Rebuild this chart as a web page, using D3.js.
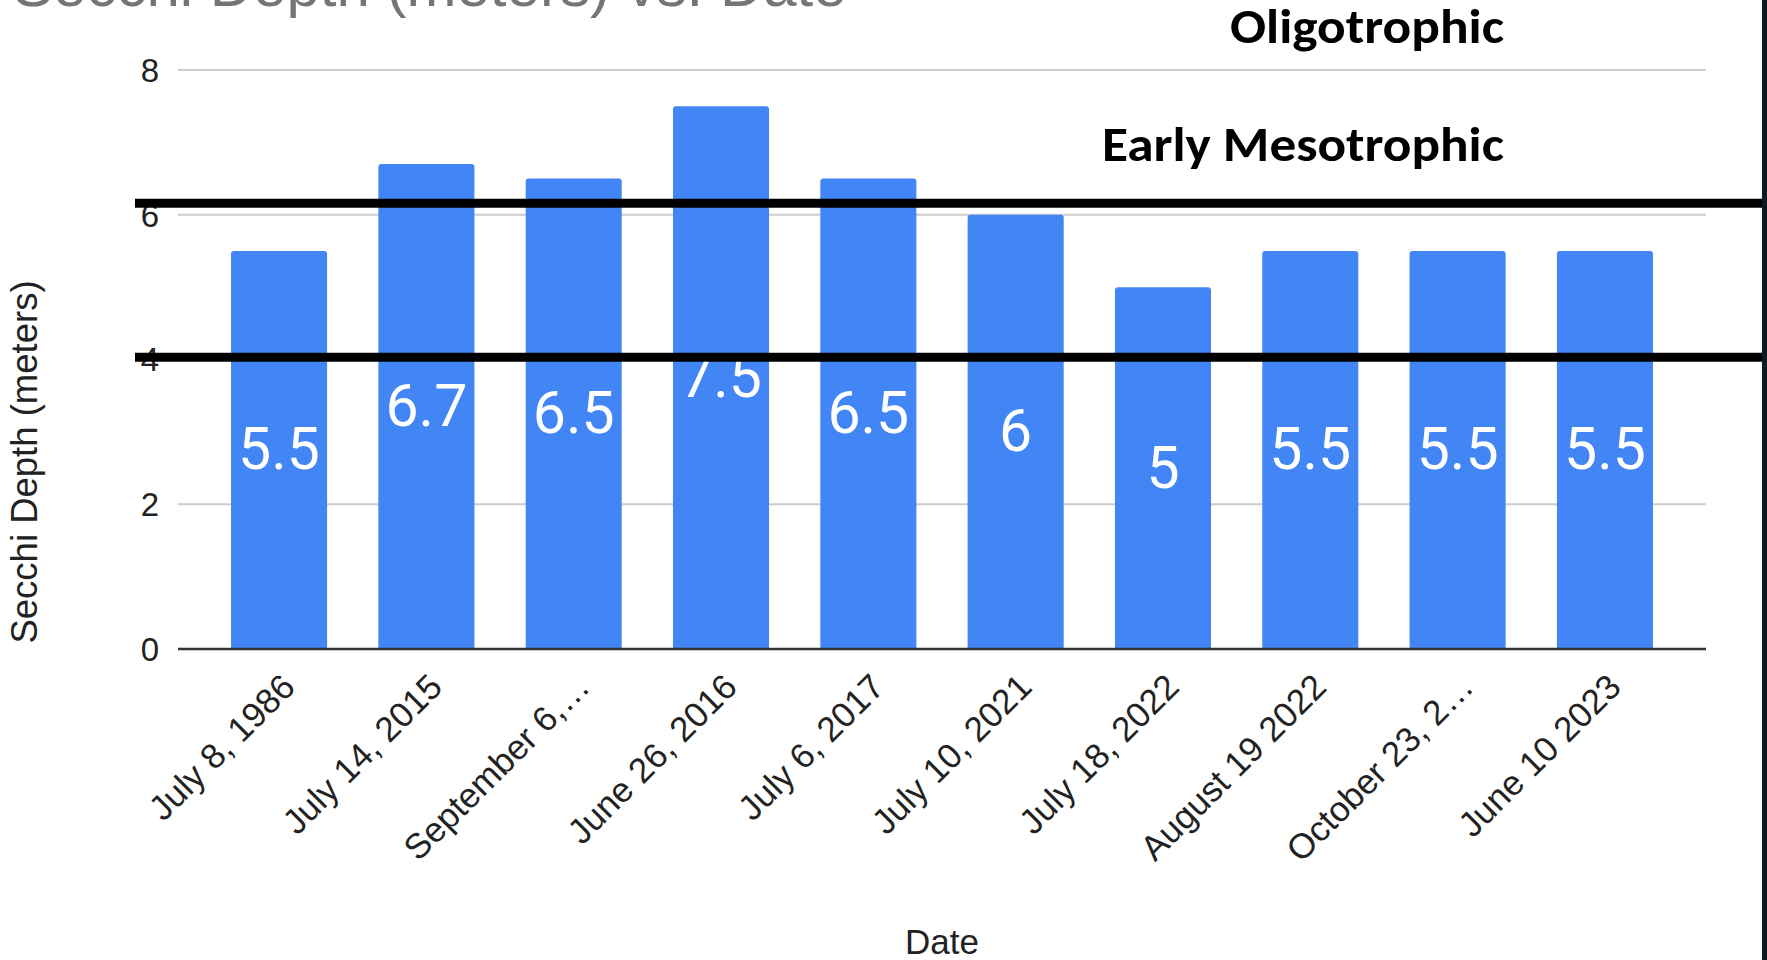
<!DOCTYPE html>
<html>
<head>
<meta charset="utf-8">
<script src="https://cdn.jsdelivr.net/npm/d3@7"></script>
<style>
    body { margin: 0; background: #fff; }
    svg { display: block; }
    .tick-label { font-family: Arial, "Liberation Sans", sans-serif; fill: #222; }
    .zone-label { font-family: Calibri, Carlito, Lato, sans-serif; font-weight: bold; fill: #000; }
</style>
</head>
<body>
<div class="chart"></div>
<script>
(function() {
    'use strict';

    // DATA ****************************************************************************
    var dates = ['July 8, 1986', 'July 14, 2015', 'September 6,\u2026', 'June 26, 2016',
                 'July 6, 2017', 'July 10, 2021', 'July 18, 2022', 'August 19 2022',
                 'October 23, 2\u2026', 'June 10 2023'];
    var depths = [5.5, 6.7, 6.5, 7.5, 6.5, 6, 5, 5.5, 5.5, 5.5];
    var yTicks = [0, 2, 4, 6, 8];
    // trophic boundary lines (meters) and their labels
    var thresholds = [6.16, 4.03];
    var zoneLabels = ['Oligotrophic', 'Early Mesotrophic'];

    var chartTitle = 'Secchi Depth (meters) vs. Date';
    var xTitle = 'Date';
    var yTitle = 'Secchi Depth (meters)';

    // SVG *****************************************************************************
    var W = 1767, H = 960;
    var svg = d3.select('.chart').append('svg')
                .attr('width', W)
                .attr('height', H);

    // plot area (pixel layout)
    var plot = {left: 178, right: 1706, top: 70, bottom: 649};

    // SCALES
    var xScale = d3.scaleBand()
                    .domain(dates)
                    .range([plot.left, plot.right])
                    .paddingInner(0.348)
                    .paddingOuter(0.36);

    var yScale = d3.scaleLinear()
                    .domain([0, 8])
                    .range([plot.bottom, plot.top]);

    // TITLE (cut off at top in the original)
    svg.append('text')
        .attr('x', 13)
        .attr('y', 6)
        .style('font-family', 'Arial, "Liberation Sans", sans-serif')
        .style('font-size', '60px')
        .style('fill', '#757575')
        .text(chartTitle);

    // GRIDLINES
    svg.append('g')
        .selectAll('line')
        .data(yTicks.filter(function(d) { return d !== 0; }))
        .enter()
        .append('line')
        .attr('x1', plot.left)
        .attr('x2', plot.right)
        .attr('y1', function(d) { return yScale(d); })
        .attr('y2', function(d) { return yScale(d); })
        .attr('stroke', '#cccccc')
        .attr('stroke-width', 2);

    // Y TICK LABELS
    svg.append('g')
        .selectAll('text')
        .data(yTicks)
        .enter()
        .append('text')
        .attr('class', 'tick-label')
        .attr('x', plot.left - 19)
        .attr('y', function(d) { return yScale(d); })
        .attr('dy', '0.36em')
        .attr('text-anchor', 'end')
        .style('font-size', '33px')
        .text(function(d) { return d; });

    // BARS (small rounded top corners)
    var r = 3;
    var bw = xScale.bandwidth();
    svg.append('g')
        .selectAll('path')
        .data(depths)
        .enter()
        .append('path')
        .attr('fill', '#4285f4')
        .attr('d', function(d, i) {
            var x0 = xScale(dates[i]), x1 = x0 + bw;
            var y0 = yScale(0), y1 = yScale(d);
            return 'M' + x0 + ',' + y0 +
                   'V' + (y1 + r) +
                   'Q' + x0 + ',' + y1 + ' ' + (x0 + r) + ',' + y1 +
                   'H' + (x1 - r) +
                   'Q' + x1 + ',' + y1 + ' ' + x1 + ',' + (y1 + r) +
                   'V' + y0 + 'Z';
        });

    // BASELINE
    svg.append('line')
        .attr('x1', plot.left)
        .attr('x2', plot.right)
        .attr('y1', yScale(0))
        .attr('y2', yScale(0))
        .attr('stroke', '#333')
        .attr('stroke-width', 2.5);

    // DATA LABELS (centered in bars)
    svg.append('g')
        .selectAll('text')
        .data(depths)
        .enter()
        .append('text')
        .attr('x', function(d, i) { return xScale(dates[i]) + bw / 2; })
        .attr('y', function(d) { return (yScale(0) + yScale(d)) / 2; })
        .attr('dy', '0.33em')
        .attr('text-anchor', 'middle')
        .style('font-family', 'Roboto, Arial, sans-serif')
        .style('font-size', '59px')
        .style('fill', '#fff')
        .text(function(d) { return d; });

    // X TICK LABELS (rotated)
    svg.append('g')
        .selectAll('text')
        .data(dates)
        .enter()
        .append('text')
        .attr('class', 'tick-label')
        .attr('text-anchor', 'end')
        .attr('transform', function(d) {
            var cx = xScale(d) + bw / 2 + 18;
            return 'translate(' + cx + ',' + (plot.bottom + 40) + ') rotate(-45)';
        })
        .style('font-size', '35px')
        .text(function(d) { return d; });

    // AXIS TITLES
    svg.append('text')
        .attr('x', (plot.left + plot.right) / 2)
        .attr('y', 954)
        .attr('text-anchor', 'middle')
        .attr('class', 'tick-label')
        .style('font-size', '35px')
        .text(xTitle);

    svg.append('text')
        .attr('transform', 'translate(37,462) rotate(-90)')
        .attr('text-anchor', 'middle')
        .attr('class', 'tick-label')
        .style('font-size', '36.5px')
        .text(yTitle);

    // TROPHIC BOUNDARY LINES (drawn over everything)
    svg.append('g')
        .selectAll('line')
        .data(thresholds)
        .enter()
        .append('line')
        .attr('x1', 135)
        .attr('x2', W)
        .attr('y1', function(d) { return yScale(d); })
        .attr('y2', function(d) { return yScale(d); })
        .attr('stroke', '#000')
        .attr('stroke-width', 9);

    // ZONE LABELS (Calibri-like, stretched to the original widths)
    var zoneY = [43, 161];
    var zoneW = [274, 402];
    svg.append('g')
        .selectAll('text')
        .data(zoneLabels)
        .enter()
        .append('text')
        .attr('class', 'zone-label')
        .attr('x', function(d, i) { return 1504 - zoneW[i]; })
        .attr('y', function(d, i) { return zoneY[i]; })
        .attr('textLength', function(d, i) { return zoneW[i]; })
        .attr('lengthAdjust', 'spacingAndGlyphs')
        .style('font-size', '49px')
        .text(function(d) { return d; });

    // dark border strip on the right edge
    svg.append('rect')
        .attr('x', W - 5)
        .attr('y', 0)
        .attr('width', 5)
        .attr('height', H)
        .attr('fill', '#0d1b21');
}());
</script>
</body>
</html>
